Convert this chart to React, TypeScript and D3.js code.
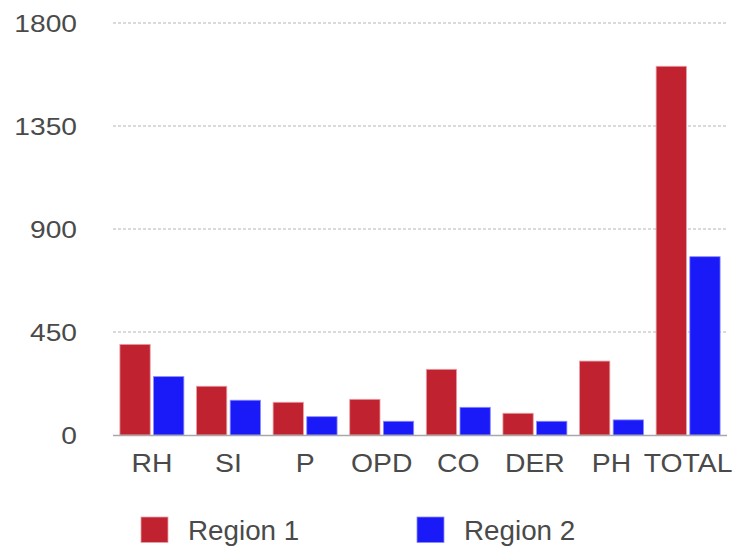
import * as d3 from 'd3';
import { useEffect, useRef } from 'react';

const categories = ['RH', 'SI', 'P', 'OPD', 'CO', 'DER', 'PH', 'TOTAL'];
const seriesNames = ['Region 1', 'Region 2'];
const region1 = [396, 213, 143, 156, 287, 95, 323, 1611];
const region2 = [255, 152, 80, 60, 121, 60, 66, 779];
const yTicks = [0, 450, 900, 1350, 1800];
const colors = ['#c0232f', '#1a1af8'];
const strokes = ['#e8a0a6', '#8a8aff'];

export default function App() {
  const ref = useRef<SVGSVGElement>(null);

  useEffect(() => {
    const svg = d3.select(ref.current);
    svg.selectAll('*').remove();

    const width = 734;
    const height = 546;
    const left = 113;
    const right = 727;
    const top = 23;
    const bottom = 435;

    const x = d3.scaleBand()
      .domain(categories)
      .range([left, right])
      .paddingInner(0.165)
      .paddingOuter(0.09);

    const xs = d3.scaleBand()
      .domain(seriesNames)
      .range([0, x.bandwidth()])
      .paddingInner(0.1);

    const y = d3.scaleLinear().domain([0, 1800]).range([bottom, top]);

    svg.attr('width', width).attr('height', height)
      .style('font-family', '"Liberation Sans", Arial, sans-serif');

    // gridlines
    svg.append('g')
      .selectAll('line')
      .data(yTicks.filter(t => t > 0))
      .enter()
      .append('line')
      .attr('x1', left)
      .attr('x2', right)
      .attr('y1', d => y(d))
      .attr('y2', d => y(d))
      .attr('stroke', '#b5b5b5')
      .attr('stroke-width', 1)
      .attr('stroke-dasharray', '3,2');

    // y labels
    svg.append('g')
      .selectAll('text')
      .data(yTicks)
      .enter()
      .append('text')
      .attr('transform', d => `translate(77,${y(d) + 9}) scale(1.15,1)`)
      .attr('text-anchor', 'end')
      .attr('font-size', 24.5)
      .attr('fill', '#4a4a4a')
      .text(d => d);

    // bars
    const values = [region1, region2];
    seriesNames.forEach((name, si) => {
      svg.append('g')
        .selectAll('rect')
        .data(categories.map((c, i) => ({ c, v: values[si][i] })))
        .enter()
        .append('rect')
        .attr('x', d => x(d.c)! + xs(name)!)
        .attr('y', d => y(d.v))
        .attr('width', xs.bandwidth())
        .attr('height', d => bottom - y(d.v))
        .attr('fill', colors[si])
        .attr('stroke', strokes[si])
        .attr('stroke-width', 0.8);
    });

    // baseline
    svg.append('line')
      .attr('x1', left)
      .attr('x2', right)
      .attr('y1', bottom + 0.5)
      .attr('y2', bottom + 0.5)
      .attr('stroke', '#a8a8a8')
      .attr('stroke-width', 1.5);

    // x labels
    svg.append('g')
      .selectAll('text')
      .data(categories)
      .enter()
      .append('text')
      .attr('transform', d => `translate(${x(d)! + x.bandwidth() / 2},472) scale(1.07,1)`)
      .attr('text-anchor', 'middle')
      .attr('font-size', 26.5)
      .attr('fill', '#4a4a4a')
      .text(d => d);

    // legend
    const legendX = [141, 417];
    const legend = svg.append('g')
      .selectAll('g')
      .data(seriesNames)
      .enter()
      .append('g')
      .attr('transform', (d, i) => `translate(${legendX[i]},517)`);

    legend.append('rect')
      .attr('width', 27)
      .attr('height', 25.5)
      .attr('fill', (d, i) => colors[i])
      .attr('stroke', (d, i) => strokes[i])
      .attr('stroke-width', 0.8);

    legend.append('text')
      .attr('transform', 'translate(47,23) scale(1.03,1)')
      .attr('font-size', 27)
      .attr('fill', '#4a4a4a')
      .text(d => d);

    return () => {
      svg.selectAll('*').remove();
    };
  }, []);

  return <svg ref={ref} style={{ position: 'absolute', left: 0, top: 0 }}></svg>;
}
